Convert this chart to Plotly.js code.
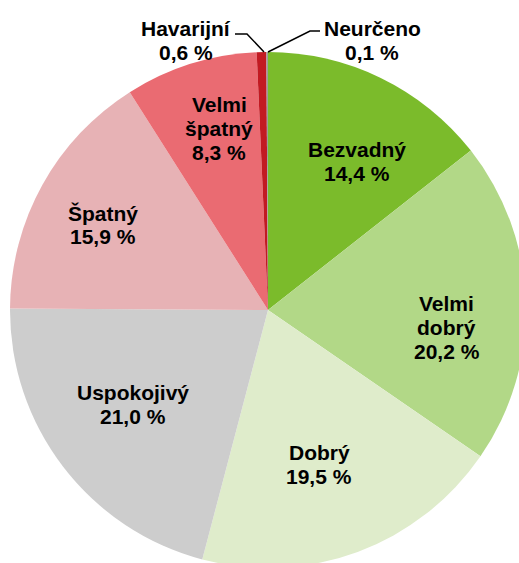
<!DOCTYPE html>
<html><head><meta charset="utf-8">
<script src="https://cdn.plot.ly/plotly-3.0.1.min.js"></script>
<style>html,body{margin:0;padding:0;overflow:hidden;background:#fff}#chart{width:536px;height:578px}</style>
</head><body><div id="chart"></div>
<script>
const categories = ['Bezvadný','Velmi dobrý','Dobrý','Uspokojivý','Špatný','Velmi špatný','Havarijní','Neurčeno'];
const shares = [14.4, 20.2, 19.5, 21.0, 15.9, 8.3, 0.6, 0.1];
const colors = ['#7bbb2b','#b2d887','#dfeccb','#cdcdcd','#e7b2b5','#ea6b72','#c21a22','#9c9c9c'];

// label placement (pixel centre of the text block in the 519x563 view)
const labelAt = [[357,161.5],[446.5,327],[319,464],[133,404.5],[103,225],[219,128.5],[186,40.5],[372,40.5]];
const LINE = 24;

const W = 536, H = 578;
const cx = 268, cy = 310, R = 258;
const px = x => x / W, py = y => 1 - y / H;
const fmt = v => v.toFixed(1).replace('.', ',');
const FONT = {family: '"Liberation Sans", Arial, sans-serif', size: 21, color: '#000', weight: 'bold'};

const trace = {
  type: 'pie',
  labels: categories,
  values: shares,
  textinfo: 'none',
  sort: false,
  direction: 'clockwise',
  rotation: 0,
  hoverinfo: 'none',
  marker: {colors: colors, line: {width: 0}},
  domain: {x: [px(cx - R), px(cx + R)], y: [py(cy + R), py(cy - R)]}
};

const annotations = [];
categories.forEach((c, i) => {
  const lines = (i < 6 ? c.split(' ') : [c]).concat([fmt(shares[i]) + ' %']);
  lines.forEach((t, k) => {
    annotations.push({
      xref: 'paper', yref: 'paper',
      x: px(labelAt[i][0]), y: py(labelAt[i][1] + (k - (lines.length - 1) / 2) * LINE),
      xanchor: 'center', yanchor: 'middle', showarrow: false,
      text: t, font: FONT
    });
  });
});

const toPath = pts => pts.map((p, j) => (j ? 'L' : 'M') + px(p[0]) + ',' + py(p[1])).join(' ');
const shapes = [
  [[235, 34], [247, 34], [264, 52]],
  [[320, 31], [310, 31], [268, 52]]
].map(pts => ({type: 'path', xref: 'paper', yref: 'paper', path: toPath(pts), line: {color: '#000', width: 1.5}}));

const layout = {
  width: W, height: H,
  margin: {l: 0, r: 0, t: 0, b: 0},
  showlegend: false,
  paper_bgcolor: '#fff',
  font: FONT,
  annotations: annotations,
  shapes: shapes
};
Plotly.newPlot('chart', [trace], layout, {displayModeBar: false, staticPlot: true});
</script></body></html>
